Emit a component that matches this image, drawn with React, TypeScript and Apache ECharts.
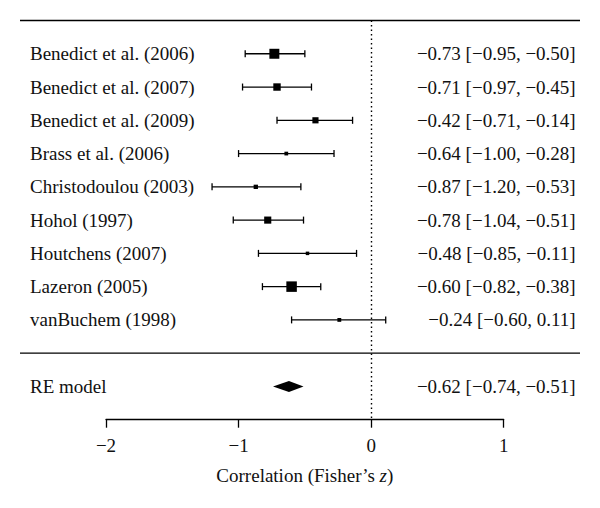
import React, { useEffect, useRef } from "react";
import * as echarts from "echarts";

const studies = [
  "Benedict et al. (2006)",
  "Benedict et al. (2007)",
  "Benedict et al. (2009)",
  "Brass et al. (2006)",
  "Christodoulou (2003)",
  "Hohol (1997)",
  "Houtchens (2007)",
  "Lazeron (2005)",
  "vanBuchem (1998)",
];
const estimates = [-0.73, -0.71, -0.42, -0.64, -0.87, -0.78, -0.48, -0.6, -0.24];
const lowerCI = [-0.95, -0.97, -0.71, -1.0, -1.2, -1.04, -0.85, -0.82, -0.6];
const upperCI = [-0.5, -0.45, -0.14, -0.28, -0.53, -0.51, -0.11, -0.38, 0.11];
// relative weights (%) estimated from square sizes
const weights = [17.3, 13.0, 10.9, 6.8, 7.8, 12.5, 6.4, 18.2, 7.0];
const summaryLabel = "RE model";
const summaryValues = [-0.62, -0.74, -0.51]; // estimate, lower, upper
const xTicks = [-2, -1, 0, 1];

const FONT = "'Liberation Serif', 'DejaVu Serif', serif";
const FS = 19;
const SUMMARY_ROW = studies.length + 1;

const fmt = (v: number) => (v < 0 ? "\u2212" : "") + Math.abs(v).toFixed(2);

export default function App() {
  const ref = useRef<HTMLDivElement>(null);
  useEffect(() => {
    if (!ref.current) return;
    document.body.style.margin = "0";
    const chart = echarts.init(ref.current, null, { renderer: "svg" });
    const wMin = Math.min(...weights);
    const wMax = Math.max(...weights);
    const sizeOf = (w: number) => 3.5 + ((w - wMin) / (wMax - wMin)) * 7;

    const leftLabel = (v: number) => {
      const i = Math.round(v);
      if (i >= 0 && i < studies.length) return studies[i];
      if (i === SUMMARY_ROW) return summaryLabel;
      return "";
    };
    const rightLabel = (v: number) => {
      const i = Math.round(v);
      if (i >= 0 && i < studies.length)
        return `${fmt(estimates[i])} [${fmt(lowerCI[i])}, ${fmt(upperCI[i])}]`;
      if (i === SUMMARY_ROW)
        return `${fmt(summaryValues[0])} [${fmt(summaryValues[1])}, ${fmt(summaryValues[2])}]`;
      return "";
    };

    const studyData = studies.map((_, i) => [estimates[i], i, lowerCI[i], upperCI[i], weights[i]]);

    const yBase = {
      type: "value" as const,
      min: -1,
      max: SUMMARY_ROW + 1,
      interval: 1,
      inverse: true,
      axisLine: { show: false },
      axisTick: { show: false },
      splitLine: { show: false },
    };

    chart.setOption({
      animation: false,
      textStyle: { fontFamily: FONT },
      grid: { left: 106, right: 96.3, top: 20.5, bottom: 88.3 },
      xAxis: {
        type: "value",
        min: xTicks[0],
        max: xTicks[xTicks.length - 1],
        interval: 1,
        axisLine: { show: true, onZero: false, lineStyle: { color: "#000", width: 1.3 } },
        axisTick: { show: true, length: 8, lineStyle: { color: "#000", width: 1.3 } },
        splitLine: { show: false },
        axisLabel: {
          color: "#111",
          fontFamily: FONT,
          fontSize: FS,
          margin: 16,
          formatter: (v: number) => (v < 0 ? "\u2212" + Math.abs(v) : String(v)),
        },
        name: "Correlation (Fisher\u2019s {i|z})",
        nameLocation: "middle",
        nameGap: 46,
        nameTextStyle: {
          color: "#111",
          fontFamily: FONT,
          fontSize: FS,
          rich: { i: { fontStyle: "italic", fontFamily: FONT, fontSize: FS, color: "#111" } },
        },
      },
      yAxis: [
        {
          ...yBase,
          position: "left",
          axisLabel: {
            color: "#111",
            fontFamily: FONT,
            fontSize: FS,
            align: "left",
            margin: 76,
            formatter: leftLabel,
          },
        },
        {
          ...yBase,
          position: "right",
          axisLabel: {
            color: "#111",
            fontFamily: FONT,
            fontSize: FS,
            align: "right",
            margin: 72,
            formatter: rightLabel,
          },
        },
      ],
      series: [
        {
          type: "custom",
          yAxisIndex: 0,
          data: studyData,
          encode: { x: 0, y: 1 },
          renderItem: (params: any, api: any) => {
            const row = api.value(1);
            const p = api.coord([api.value(0), row]);
            const l = api.coord([api.value(2), row]);
            const h = api.coord([api.value(3), row]);
            const s = sizeOf(api.value(4));
            const ls = { stroke: "#000", lineWidth: 1.3 };
            return {
              type: "group",
              children: [
                { type: "line", shape: { x1: l[0], y1: l[1], x2: h[0], y2: h[1] }, style: ls },
                { type: "line", shape: { x1: l[0], y1: l[1] - 3.5, x2: l[0], y2: l[1] + 3.5 }, style: ls },
                { type: "line", shape: { x1: h[0], y1: h[1] - 3.5, x2: h[0], y2: h[1] + 3.5 }, style: ls },
                { type: "rect", shape: { x: p[0] - s / 2, y: p[1] - s / 2, width: s, height: s }, style: { fill: "#000" } },
              ],
            };
          },
          markLine: {
            silent: true,
            symbol: "none",
            label: { show: false },
            lineStyle: { type: [1.5, 3], color: "#000", width: 1.4 },
            data: [{ xAxis: 0 }],
          },
        },
        {
          type: "custom",
          yAxisIndex: 0,
          data: [[summaryValues[0], SUMMARY_ROW, summaryValues[1], summaryValues[2]]],
          encode: { x: 0, y: 1 },
          renderItem: (params: any, api: any) => {
            const row = api.value(1);
            const p = api.coord([api.value(0), row]);
            const l = api.coord([api.value(2), row]);
            const h = api.coord([api.value(3), row]);
            return {
              type: "polygon",
              shape: {
                points: [
                  [l[0], l[1]],
                  [p[0], p[1] - 5.5],
                  [h[0], h[1]],
                  [p[0], p[1] + 5.5],
                ],
              },
              style: { fill: "#000" },
            };
          },
        },
      ],
    });

    const yTop = chart.convertToPixel({ yAxisIndex: 0 }, -1) as number;
    const ySep = chart.convertToPixel({ yAxisIndex: 0 }, studies.length) as number;
    chart.setOption({
      graphic: [
        { type: "line", shape: { x1: 20, y1: yTop, x2: 580, y2: yTop }, style: { stroke: "#000", lineWidth: 1.3 } },
        { type: "line", shape: { x1: 20, y1: ySep, x2: 580, y2: ySep }, style: { stroke: "#000", lineWidth: 1.3 } },
      ],
    });

    return () => chart.dispose();
  }, []);
  return <div ref={ref} style={{ width: 600, height: 508 }} />;
}
